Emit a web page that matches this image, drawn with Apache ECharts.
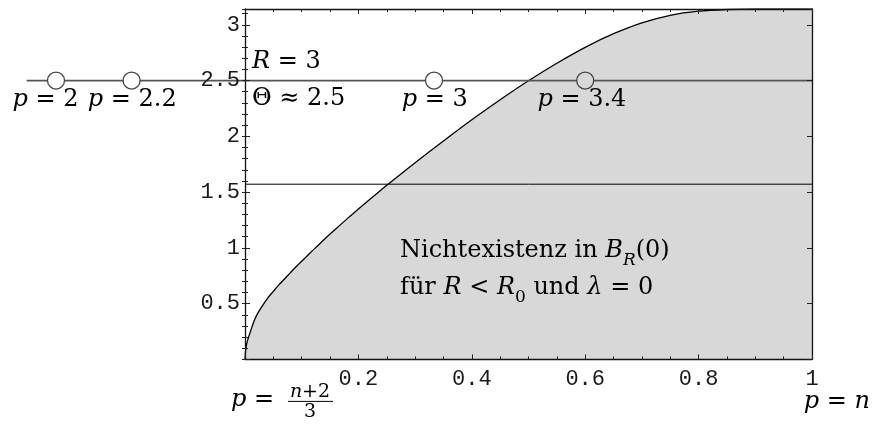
<!DOCTYPE html>
<html>
<head>
<meta charset="utf-8">
<script src="https://cdn.jsdelivr.net/npm/echarts@6/dist/echarts.min.js"></script>
<style>
  html, body { margin: 0; padding: 0; background: #fff; }
  #chart { width: 877px; height: 425px; }
</style>
</head>
<body>
<div id="chart"></div>
<script>
// Boundary curve Θ(x) of the non-existence region
const curveX = [0, 0.001, 0.003, 0.006, 0.01, 0.015, 0.02, 0.03, 0.04, 0.05, 0.06, 0.075, 0.09, 0.105,
                0.12, 0.14, 0.16, 0.18, 0.2, 0.225, 0.25, 0.3, 0.35, 0.4, 0.45, 0.5, 0.55, 0.6,
                0.65, 0.7, 0.75, 0.8, 0.85, 0.9, 1];
const curveY = [0, 0.075, 0.14, 0.195, 0.255, 0.33, 0.39, 0.475, 0.55, 0.61, 0.67, 0.75, 0.83, 0.905,
                0.98, 1.077, 1.17, 1.26, 1.348, 1.455, 1.562, 1.763, 1.958, 2.148, 2.328, 2.498, 2.655, 2.798,
                2.92, 3.018, 3.085, 3.122, 3.137, 3.1416, 3.1416];

// Reference levels
const thetaLevel = 2.5;          // Θ ≈ 2.5 for R = 3
const halfPiLevel = Math.PI / 2;
const thetaLineStart = -0.385;   // the Θ level line runs left past the frame

// Sample exponents p on the Θ level
const pX = [-1 / 3, -0.2, 1 / 3, 0.6];
const pLabels = ['2', '2.2', '3', '3.4'];

// Tick labels
const xTickLabels = ['0.2', '0.4', '0.6', '0.8', '1'];
const yTickLabels = ['0.5', '1', '1.5', '2', '2.5', '3'];

const SERIF = 'DejaVu Serif';
const MONO = 'Liberation Mono';
const FILL = '#d8d8d8';

const math = {
  rm:  { fontFamily: SERIF, fontSize: 24, lineHeight: 30, fill: '#000', color: '#000' },
  it:  { fontFamily: SERIF, fontSize: 24, lineHeight: 30, fontStyle: 'italic', fill: '#000', color: '#000' },
};
const mathText = {
  rm:   { fontFamily: SERIF, fontSize: 24, lineHeight: 37, fill: '#000' },
  it:   { fontFamily: SERIF, fontSize: 24, lineHeight: 37, fontStyle: 'italic', fill: '#000' },
  subi: { fontFamily: SERIF, fontSize: 17, lineHeight: 24, fontStyle: 'italic', verticalAlign: 'bottom', fill: '#000' },
  sub:  { fontFamily: SERIF, fontSize: 17, lineHeight: 24, verticalAlign: 'bottom', fill: '#000' },
};
const small = {
  rm: { fontFamily: SERIF, fontSize: 19, fill: '#000' },
  it: { fontFamily: SERIF, fontSize: 19, fontStyle: 'italic', fill: '#000' },
};

const fmt = list => v => {
  const s = String(+(+v).toFixed(2));
  return list.includes(s) ? s : '';
};

const tickLabel = { fontFamily: MONO, fontSize: 22, color: '#1a1a1a' };
const frameLine = { show: true, onZero: false, lineStyle: { color: '#111', width: 1.3 } };

function xAx(position, labels) {
  return {
    type: 'value', position, min: 0, max: 1, interval: 0.2, z: 5,
    axisLine: frameLine,
    axisTick: { show: true, inside: true, length: 5, lineStyle: { color: '#222', width: 1 } },
    minorTick: { show: true, splitNumber: 4, length: 3, lineStyle: { color: '#222', width: 1 } },
    splitLine: { show: false }, minorSplitLine: { show: false },
    axisLabel: labels ? { ...tickLabel, margin: 9, formatter: fmt(xTickLabels) } : { show: false }
  };
}
function yAx(position, major, labels) {
  return {
    type: 'value', position, min: 0, max: Math.PI, interval: major ? 0.5 : 0.1, z: 5,
    axisLine: major ? frameLine : { show: false },
    axisTick: { show: true, inside: true, length: major ? 5 : 3, lineStyle: { color: '#222', width: 1 } },
    splitLine: { show: false },
    axisLabel: labels ? { ...tickLabel, margin: 5, formatter: fmt(yTickLabels) } : { show: false }
  };
}

const chart = echarts.init(document.getElementById('chart'), null, { renderer: 'canvas' });

const pData = pX.map((x, i) => ({
  value: [x, thetaLevel],
  itemStyle: { color: x > 0.5 ? FILL : '#fff' },
  label: {
    formatter: '{it|p}{rm| = ' + pLabels[i] + '}',
    offset: [[-10.5, 0.7, 0.7, -3.3][i], 19.5]
  }
}));

chart.setOption({
  animation: false,
  backgroundColor: '#fff',
  grid: { left: 245, top: 9, width: 567, height: 350.4, containLabel: false },
  xAxis: [xAx('bottom', true), xAx('top', false)],
  yAxis: [yAx('left', true, true), yAx('left', false, false), yAx('right', true, false), yAx('right', false, false)],
  series: [
    {
      type: 'line',
      data: curveX.map((x, i) => [x, curveY[i]]),
      smooth: 0.2,
      symbol: 'none',
      lineStyle: { color: '#000', width: 1.3 },
      areaStyle: { color: FILL, opacity: 1 },
      z: 1
    },
    {
      type: 'line',
      data: [[0, halfPiLevel], [1, halfPiLevel]],
      symbol: 'none',
      lineStyle: { color: '#000', width: 1 },
      z: 2
    },
    {
      // Θ level line, continuing left of the frame
      type: 'custom',
      data: [[thetaLineStart, 1, thetaLevel]],
      clip: false,
      renderItem: (params, api) => {
        const a = api.coord([api.value(0), api.value(2)]);
        const b = api.coord([api.value(1), api.value(2)]);
        return {
          type: 'line',
          shape: { x1: a[0], y1: a[1], x2: b[0], y2: b[1] },
          style: { stroke: '#555', lineWidth: 1.7 }
        };
      },
      z: 3
    },
    {
      type: 'scatter',
      data: pData,
      clip: false,
      symbol: 'circle', symbolSize: 17,
      itemStyle: { borderColor: '#444', borderWidth: 1.3, opacity: 1 },
      label: { show: true, position: 'inside', rich: math },
      z: 4
    }
  ]
});

const px = (x, y) => chart.convertToPixel({ xAxisIndex: 0, yAxisIndex: 0 }, [x, y]);
const lvl = px(0, thetaLevel);
const o = px(0, 0);
const e = px(1, 0);
const txt = (x, y, text, rich, align, va) => ({
  type: 'text', x, y, z: 10,
  style: { text, rich, align: align || 'left', verticalAlign: va || 'middle', fill: '#000' }
});

chart.setOption({
  graphic: [
    txt(lvl[0] + 7, lvl[1] - 19, '{it|R}{rm| = 3}', math),
    txt(lvl[0] + 7, lvl[1] + 18, '{rm|Θ ≈ 2.5}', math),
    txt(o[0] + 155, o[1] - 127,
        '{rm|Nichtexistenz in }{it|B}{subi|R}{rm|(0)}\n{rm|für }{it|R}{rm| < }{it|R}{sub|0}{rm| und }{it|λ}{rm| = 0}',
        mathText, 'left', 'top'),
    txt(o[0] - 14, o[1] + 40, '{it|p}{rm| =}', math),
    txt(o[0] + 65, o[1] + 33, '{it|n}{rm|+2}', small, 'center'),
    {
      type: 'line', z: 10,
      shape: { x1: o[0] + 43, y1: o[1] + 42, x2: o[0] + 88, y2: o[1] + 42 },
      style: { stroke: '#000', lineWidth: 1 }
    },
    txt(o[0] + 65, o[1] + 53, '{rm|3}', small, 'center'),
    txt(e[0] + 58, o[1] + 42, '{it|p}{rm| = }{it|n}', math, 'right')
  ]
});
</script>
</body>
</html>
